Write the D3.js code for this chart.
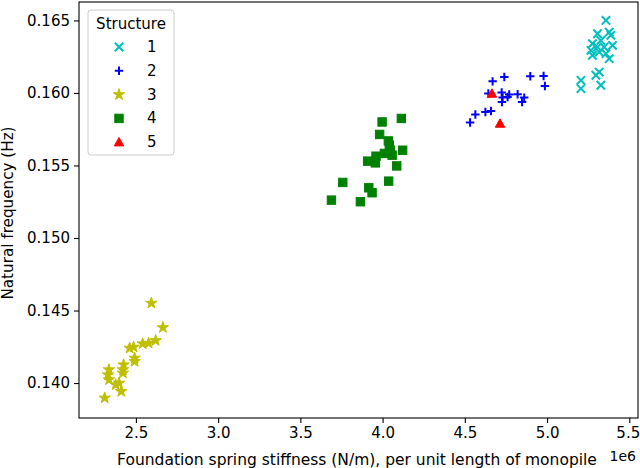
<!DOCTYPE html>
<html>
<head>
<meta charset="utf-8">
<script src="https://cdn.jsdelivr.net/npm/d3@7.9.0/dist/d3.min.js"></script>
<style>
  body { margin: 0; background: #fff; }
  svg { font-family: "DejaVu Sans", sans-serif; }
</style>
</head>
<body>
<div id="chart"></div>
<script>
// stiffness in units of 1e6 N/m, frequency in Hz
const s1x = [5.358, 5.307, 5.378, 5.388, 5.276, 5.327, 5.398, 5.347, 5.307, 5.267, 5.317, 5.358, 5.276, 5.378, 5.317, 5.297, 5.206, 5.206, 5.327];
const s1y = [0.16500, 0.16408, 0.16419, 0.16397, 0.16340, 0.16362, 0.16328, 0.16316, 0.16316, 0.16294, 0.16282, 0.16271, 0.16259, 0.16236, 0.16144, 0.16122, 0.16087, 0.16030, 0.16053];

const s2x = [4.669, 4.740, 4.898, 4.979, 4.987, 4.643, 4.724, 4.770, 4.821, 4.730, 4.760, 4.861, 4.848, 4.726, 4.659, 4.625, 4.564, 4.532];
const s2y = [0.16080, 0.16110, 0.16115, 0.16117, 0.16048, 0.15996, 0.16003, 0.15989, 0.15991, 0.15968, 0.15972, 0.15968, 0.15938, 0.15938, 0.15876, 0.15869, 0.15851, 0.15796];

const s3x = [2.594, 2.664, 2.620, 2.577, 2.541, 2.462, 2.486, 2.492, 2.492, 2.425, 2.421, 2.421, 2.336, 2.330, 2.336, 2.397, 2.377, 2.411, 2.310];
const s3y = [0.14551, 0.14383, 0.14293, 0.14275, 0.14271, 0.14241, 0.14248, 0.14172, 0.14149, 0.14126, 0.14092, 0.14069, 0.14092, 0.14057, 0.14023, 0.14000, 0.13988, 0.13942, 0.13897];

const s4x = [3.997, 4.114, 3.982, 4.035, 4.041, 4.047, 4.122, 4.011, 3.960, 4.058, 3.909, 3.956, 4.086, 4.037, 3.758, 3.916, 3.936, 3.689, 3.865];
const s4y = [0.15800, 0.15824, 0.15714, 0.15669, 0.15640, 0.15605, 0.15605, 0.15583, 0.15564, 0.15571, 0.15530, 0.15518, 0.15497, 0.15392, 0.15383, 0.15346, 0.15312, 0.15261, 0.15250];

const s5x = [4.665, 4.714];
const s5y = [0.15996, 0.15789];

const structures = ['1', '2', '3', '4', '5'];
const xTicks = [2.5, 3.0, 3.5, 4.0, 4.5, 5.0, 5.5];
const yTicks = [0.140, 0.145, 0.150, 0.155, 0.160, 0.165];

const width = 640, height = 468;
const margin = { top: 2, right: 2, bottom: 50, left: 79 };

const x = d3.scaleLinear()
  .domain([2.154, 5.553])
  .range([margin.left, width - margin.right]);
const y = d3.scaleLinear()
  .domain([0.13759, 0.16627])
  .range([height - margin.bottom, margin.top]);

const svg = d3.select('#chart').append('svg')
  .attr('width', width)
  .attr('height', height);

// marker shapes
const R = 4.2;
const markers = {
  x: (g, c) => g.append('path')
    .attr('d', `M${-R},${-R}L${R},${R}M${-R},${R}L${R},${-R}`)
    .attr('stroke', c).attr('stroke-width', 2).attr('fill', 'none'),
  plus: (g, c) => g.append('path')
    .attr('d', `M${-R},0L${R},0M0,${-R}L0,${R}`)
    .attr('stroke', c).attr('stroke-width', 2).attr('fill', 'none'),
  star: (g, c) => g.append('path')
    .attr('d', d3.symbol(d3.symbolStar, 40)())
    .attr('fill', c).attr('stroke', c).attr('stroke-width', 1),
  square: (g, c) => g.append('rect')
    .attr('x', -R).attr('y', -R).attr('width', 2 * R).attr('height', 2 * R)
    .attr('fill', c).attr('stroke', c).attr('stroke-width', 1),
  triangle: (g, c) => g.append('path')
    .attr('d', `M0,${-R - 0.5}L${R + 0.5},${R - 0.5}L${-R - 0.5},${R - 0.5}Z`)
    .attr('fill', c).attr('stroke', c).attr('stroke-width', 1)
};

const series = [
  { name: structures[0], xs: s1x, ys: s1y, color: '#00bfbf', marker: 'x' },
  { name: structures[1], xs: s2x, ys: s2y, color: '#0000ff', marker: 'plus' },
  { name: structures[2], xs: s3x, ys: s3y, color: '#bfbf00', marker: 'star' },
  { name: structures[3], xs: s4x, ys: s4y, color: '#008000', marker: 'square' },
  { name: structures[4], xs: s5x, ys: s5y, color: '#ff0000', marker: 'triangle' }
];

const plot = svg.append('g');
series.forEach(s => {
  const pts = s.xs.map((v, i) => [v, s.ys[i]]);
  plot.append('g')
    .selectAll('g')
    .data(pts)
    .join('g')
    .attr('transform', d => `translate(${x(d[0])},${y(d[1])})`)
    .each(function () { markers[s.marker](d3.select(this), s.color); });
});

// axes
const xAxis = svg.append('g')
  .attr('transform', `translate(0,${height - margin.bottom})`)
  .call(d3.axisBottom(x).tickValues(xTicks).tickFormat(d3.format('.1f')).tickSize(5).tickPadding(4));
const yAxis = svg.append('g')
  .attr('transform', `translate(${margin.left},0)`)
  .call(d3.axisLeft(y).tickValues(yTicks).tickFormat(d3.format('.3f')).tickSize(5).tickPadding(4));
[xAxis, yAxis].forEach(a => {
  a.select('.domain').remove();
  a.selectAll('.tick line').attr('stroke', '#000').attr('stroke-width', 1.1);
  a.selectAll('.tick text').attr('fill', '#000').style('font-size', '15px')
    .style('font-family', '"DejaVu Sans", sans-serif');
});
// keep the last x label inside the picture
xAxis.selectAll('.tick text').filter(d => d === 5.5).attr('x', -1.5);

// frame
svg.append('rect')
  .attr('x', margin.left).attr('y', margin.top)
  .attr('width', width - margin.left - margin.right)
  .attr('height', height - margin.top - margin.bottom)
  .attr('fill', 'none').attr('stroke', '#000').attr('stroke-width', 1.1);

// labels
svg.append('text')
  .attr('x', 357)
  .attr('y', 465)
  .attr('text-anchor', 'middle')
  .style('font-size', '15.5px')
  .text('Foundation spring stiffness (N/m), per unit length of monopile');
svg.append('text')
  .attr('x', 636)
  .attr('y', 461)
  .attr('text-anchor', 'end')
  .style('font-size', '14px')
  .text('1e6');
svg.append('text')
  .attr('transform', `translate(13,213) rotate(-90)`)
  .attr('text-anchor', 'middle')
  .style('font-size', '15.2px')
  .text('Natural frequency (Hz)');

// legend
const lg = svg.append('g').attr('transform', 'translate(88,10)');
lg.append('rect')
  .attr('width', 86).attr('height', 145).attr('rx', 3)
  .attr('fill', 'rgba(255,255,255,0.8)').attr('stroke', '#cccccc').attr('stroke-width', 1);
lg.append('text')
  .attr('x', 43).attr('y', 19)
  .attr('text-anchor', 'middle')
  .style('font-size', '15px')
  .text('Structure');
series.forEach((s, i) => {
  const row = lg.append('g').attr('transform', `translate(0,${37 + i * 23.8})`);
  const m = row.append('g').attr('transform', 'translate(31,0)');
  markers[s.marker](m, s.color);
  row.append('text')
    .attr('x', 59).attr('y', 5)
    .style('font-size', '15px')
    .text(s.name);
});
</script>
</body>
</html>
